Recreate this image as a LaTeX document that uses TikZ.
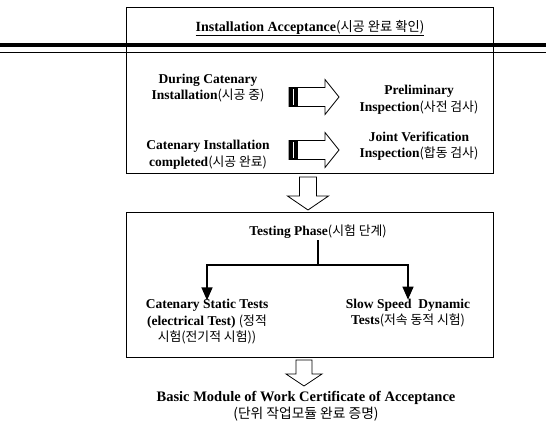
\documentclass[tikz,border=0pt]{standalone}
\usepackage{fontspec}
\setmainfont{Liberation Serif}
\newfontfamily\krfont{Noto Sans CJK KR}[Scale=0.95]
\newcommand{\kor}[1]{{\krfont\mdseries #1}}
\usetikzlibrary{arrows.meta,positioning}

\begin{document}
\begin{tikzpicture}[
  x=1pt, y=-1pt,
  every node/.style={font=\bfseries\fontsize{13.5}{16.5}\selectfont,
    align=center, inner sep=1pt},
  frame/.style={draw, line width=0.8pt},
  blk/.style={draw, line width=0.8pt, fill=white, line join=miter},
  branch/.style={-{Triangle[length=13pt,width=11pt]}, line width=1.4pt}
]
\useasboundingbox (0,0) rectangle (546,425);

% Installation acceptance block.
\draw[frame] (126,7) rectangle (493,173);
\draw[line width=3.6pt] (0,45) -- (546,45);
\draw[line width=1.3pt] (0,52.5) -- (546,52.5);
\node[font=\bfseries\fontsize{14}{16}\selectfont] (ttl) at (310,28)
  {\underline{Installation Acceptance\kor{(시공 완료 확인)}}};

\node (during) at (208,88) {During Catenary\\Installation\kor{(시공 중)}};
\node (prelim) at (419,100) {Preliminary\\Inspection\kor{(사전 검사)}};
\node (compl) at (208,155) {Catenary Installation\\completed\kor{(시공 완료)}};
\node (joint) at (419,146) {Joint Verification\\Inspection\kor{(합동 검사)}};

% Hollow block arrows with striped tails.
\coordinate (t1) at (289,97);
\coordinate (t2) at (289,150);
\foreach \t in {t1,t2} {
  \draw[blk] (\t) ++(0,-9.5) -- ++(36,0) -- ++(0,-8) -- ++(14,17.5)
    -- ++(-14,17.5) -- ++(0,-8) -- ++(-36,0) -- cycle;
  \fill (\t) ++(0,-9.5) rectangle ++(9,19);
  \draw[white, line width=0.9pt] (\t) ++(4.5,-8) -- ++(0,16);
}

% Hollow block arrows pointing down.
\coordinate (d1) at (308,177);
\draw[blk] (d1) ++(-8.5,0) -- ++(0,19) -- ++(-12,0) -- ++(20.5,14)
  -- ++(20.5,-14) -- ++(-12,0) -- ++(0,-19) -- cycle;
\coordinate (d2) at (304,360);
\draw[blk] (d2) ++(-8,0) -- ++(0,14) -- ++(-10,0) -- ++(18,12)
  -- ++(18,-12) -- ++(-10,0) -- ++(0,-14) -- cycle;

% Testing phase block.
\draw[frame] (126,212) rectangle (493,357);
\node (phase) at (318,232) {Testing Phase\kor{(시험 단계)}};
\node (static) at (207,322)
  {Catenary Static Tests\\(electrical Test) \kor{(정적}\\\kor{시험(전기적 시험))}};
\node (dynamic) at (408,313) {Slow Speed~ Dynamic\\Tests\kor{(저속 동적 시험)}};
\coordinate (split) at (318,265);
\draw[line width=1.4pt] (phase) -- (split);
\draw[branch] (split) -| ([yshift=-2pt]static.north);
\draw[branch] (split) -| ([yshift=-2pt]dynamic.north);

\node[font=\bfseries\fontsize{14.5}{17}\selectfont] (cert) at (306,406)
  {Basic Module of Work Certificate of Acceptance\\\kor{(단위 작업모듈 완료 증명)}};
\end{tikzpicture}
\end{document}
